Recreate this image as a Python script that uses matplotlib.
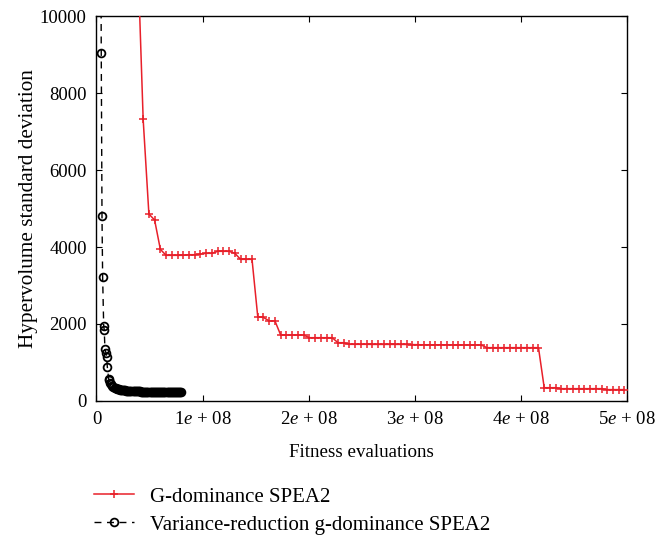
import matplotlib
matplotlib.use("Agg")
import matplotlib.pyplot as plt
from matplotlib.ticker import FixedLocator

plt.rcParams['font.family'] = ['Liberation Serif', 'DejaVu Serif']
plt.rcParams['mathtext.fontset'] = 'custom'
plt.rcParams['mathtext.rm'] = 'Liberation Serif'
plt.rcParams['mathtext.it'] = 'Liberation Serif:italic'

# ---- data (evaluations in millions) ----
red_x = [38.6, 44.0, 49.4, 54.8, 60.2, 65.6, 71.0, 76.4, 81.8, 87.2, 92.6, 98.0,
         103.4, 108.8, 114.2, 119.6, 125.0, 130.4, 135.8, 141.2, 146.6, 152.0,
         157.4, 162.8, 168.2, 173.6, 179.0, 184.4, 189.8, 195.2, 200.6, 206.0,
         211.4, 216.8, 222.2, 227.6, 233.0, 238.4, 243.8, 249.2, 254.6, 260.0,
         265.4, 270.8, 276.2, 281.6, 287.0, 292.4, 297.8, 303.2, 308.6, 314.0,
         319.4, 324.8, 330.2, 335.6, 341.0, 346.4, 351.8, 357.2, 362.6, 368.0,
         373.4, 378.8, 384.2, 389.6, 395.0, 400.4, 405.8, 411.2, 416.6, 422.0,
         427.4, 432.8, 438.2, 443.6, 449.0, 454.4, 459.8, 465.2, 470.6, 476.0,
         481.4, 486.8, 492.2, 497.6]
red_y = [11800, 7317, 4857, 4701, 3940, 3784, 3784, 3784, 3784, 3800, 3800, 3818,
         3836, 3836, 3888, 3888, 3888, 3836, 3680, 3680, 3680, 2190, 2170,
         2080, 2080, 1714, 1714, 1714, 1714, 1714, 1644, 1644, 1644, 1644, 1644,
         1514, 1514, 1472, 1472, 1472, 1472, 1470, 1470, 1470, 1470, 1470, 1470,
         1468, 1465, 1462, 1460, 1460, 1460, 1460, 1460, 1458, 1456, 1455, 1455,
         1455, 1455, 1385, 1385, 1385, 1385, 1385, 1385, 1385, 1385, 1385, 1385,
         345, 345, 345, 320, 320, 320, 320, 320, 320, 320, 320, 295, 295, 295, 295]

black_x = [3.9, 4.5, 5.2, 5.8, 6.8, 7.3, 8.0, 8.9, 9.6, 10.2, 11.5,
           12, 13, 14, 15, 16, 17, 18, 19, 20, 21, 22, 23, 24, 25, 26, 27, 28,
           29, 30, 31, 32, 33, 34, 35, 36, 37, 38, 39, 40, 41, 42, 43, 44, 45,
           46, 47, 48, 49, 50, 51, 52, 53, 54, 55, 56, 57, 58, 59, 60, 61, 62,
           63, 64, 65, 66, 67, 68, 69, 70, 71, 72, 73, 74, 75, 76, 77, 78, 79, 80]
black_y = [14000, 9050, 4800, 3230, 1950, 1850, 1340, 1255, 1150, 890, 565,
           540, 475, 430, 395, 370, 350, 335, 322, 312, 304, 297, 291, 286, 281,
           277, 273, 270, 267, 264, 262, 260, 258, 256, 254, 252, 251, 250, 249,
           248, 247, 246, 245, 244, 243, 242, 241, 240, 239, 238, 237, 236, 236,
           235, 234, 233, 233, 232, 231, 231, 230, 230, 229, 229, 228, 228, 227,
           227, 226, 226, 226, 225, 225, 225, 224, 224, 224, 223, 223, 223]

x_ticks = [0, 100, 200, 300, 400, 500]
x_tick_labels = ['0', '1$e$ + 08', '2$e$ + 08', '3$e$ + 08', '4$e$ + 08', '5$e$ + 08']
y_ticks = [0, 2000, 4000, 6000, 8000, 10000]

fig = plt.figure(figsize=(6.59, 5.35), dpi=100)
ax = fig.add_axes([0.1464, 0.2505, 0.8050, 0.7195])

ax.plot(red_x, red_y, color='#e8202a', lw=1.1, marker='+', ms=5.5, mew=1.1,
        label='G-dominance SPEA2', zorder=3)
ax.plot(black_x, black_y, color='black', lw=1.0, ls=(0, (5, 4)), marker='o',
        ms=5.6, mfc='none', mew=1.3, label='Variance-reduction g-dominance SPEA2',
        zorder=2)

ax.set_xlim(0, 500)
ax.set_ylim(0, 10000)
ax.xaxis.set_major_locator(FixedLocator(x_ticks))
ax.set_xticklabels(x_tick_labels)
ax.yaxis.set_major_locator(FixedLocator(y_ticks))
ax.tick_params(direction='in', length=4.5, width=0.8, top=True, right=True,
               labelsize=13.5, pad=7)
for s in ax.spines.values():
    s.set_linewidth(1.0)

ax.set_xlabel('Fitness evaluations', fontsize=13.7, labelpad=12)
ax.set_ylabel('Hypervolume standard deviation', fontsize=15.3, labelpad=1)

fig.legend(loc='upper left', bbox_to_anchor=(0.13, 0.105), frameon=False,
           fontsize=15, handlelength=1.9, handletextpad=0.8, labelspacing=0.4,
           borderaxespad=0)

fig.savefig('out.png', dpi=100)
